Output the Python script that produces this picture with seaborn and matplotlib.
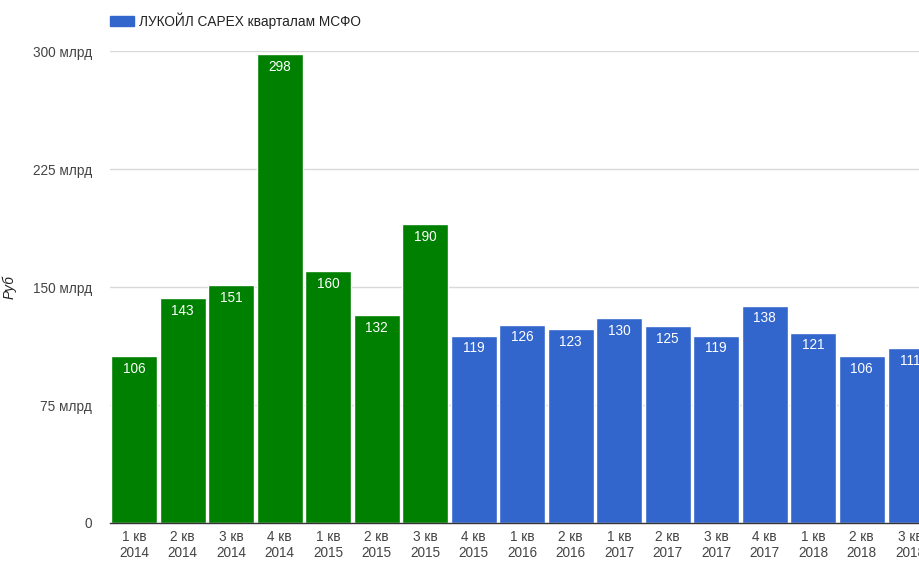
import matplotlib
matplotlib.use("Agg")
import matplotlib.pyplot as plt
from matplotlib.patches import Rectangle
import seaborn as sns
import pandas as pd

quarters = ["1 кв\n2014", "2 кв\n2014", "3 кв\n2014", "4 кв\n2014",
            "1 кв\n2015", "2 кв\n2015", "3 кв\n2015", "4 кв\n2015",
            "1 кв\n2016", "2 кв\n2016", "1 кв\n2017", "2 кв\n2017",
            "3 кв\n2017", "4 кв\n2017", "1 кв\n2018", "2 кв\n2018",
            "3 кв\n2018"]
capex_bln = [106, 143, 151, 298, 160, 132, 190, 119, 126, 123, 130, 125,
             119, 138, 121, 106, 111]
n_green = 7
green = "#008000"
blue = "#3366cc"
colors = [green] * n_green + [blue] * (len(quarters) - n_green)
yticks = [0, 75, 150, 225, 300]
ytick_labels = ["0", "75 млрд", "150 млрд", "225 млрд", "300 млрд"]

sns.set_style("white")
plt.rcParams["font.family"] = ["Liberation Sans", "DejaVu Sans"]

df = pd.DataFrame({"quarter": quarters, "capex": capex_bln})

fig = plt.figure(figsize=(9.2, 5.62), dpi=100)
ax = fig.add_axes([110 / 920, 39 / 562, 810 / 920, 472 / 562])

sns.barplot(data=df, x="quarter", y="capex", hue="quarter",
            palette=dict(zip(quarters, colors)), order=quarters,
            legend=False, width=0.94, saturation=1, ax=ax, zorder=2)

ax.set_ylim(0, 300)
ax.set_xlim(-0.5, 16.2)
ax.set_yticks(yticks)
ax.set_yticklabels(ytick_labels)
ax.yaxis.grid(True, color="#d9d9d9", linewidth=1, zorder=0)
ax.set_axisbelow(True)
for s in ["top", "right", "left"]:
    ax.spines[s].set_visible(False)
ax.spines["bottom"].set_color("#333333")
ax.spines["bottom"].set_linewidth(1)
ax.spines["bottom"].set_zorder(3)
ax.tick_params(axis="both", length=0, labelsize=9.8, labelcolor="#444444")
ax.tick_params(axis="y", pad=13)
ax.tick_params(axis="x", pad=5)
for lbl in ax.get_xticklabels():
    lbl.set_linespacing(1.22)
ax.set_xlabel("")
ax.set_ylabel("Руб", fontsize=9.8, color="#222222", style="italic")
ax.yaxis.set_label_coords(-93 / 810, 0.5)

for p, v in zip(ax.patches, capex_bln):
    ax.annotate(f"{v}", (p.get_x() + p.get_width() / 2, v),
                xytext=(0, -4), textcoords="offset points",
                ha="center", va="top", color="white", fontsize=9.8,
                zorder=4)

# Legend
fig.patches.append(Rectangle((110 / 920, 1 - 26 / 562), 24 / 920, 10 / 562,
                             transform=fig.transFigure, color=blue))
fig.text(139 / 920, 1 - 21 / 562, "ЛУКОЙЛ CAPEX кварталам МСФО",
         fontsize=9.8, color="#222222", va="center", ha="left")

fig.savefig("out.png", dpi=100)
